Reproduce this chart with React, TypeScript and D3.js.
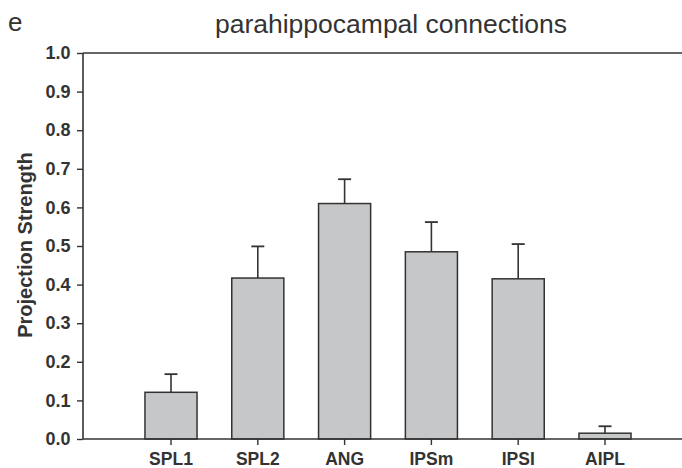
import React, { useEffect, useRef } from 'react'
import * as d3 from 'd3'

const regions = ['SPL1', 'SPL2', 'ANG', 'IPSm', 'IPSI', 'AIPL']
const strength = [0.121, 0.417, 0.61, 0.485, 0.415, 0.015]
const errorTop = [0.168, 0.499, 0.673, 0.562, 0.505, 0.033]
const yTicks = [0, 0.1, 0.2, 0.3, 0.4, 0.5, 0.6, 0.7, 0.8, 0.9, 1.0]

export default function App() {
    const node = useRef<SVGSVGElement>(null)

    useEffect(() => {
        document.body.style.margin = '0'
        const svg = d3.select(node.current)
        svg.selectAll('*').remove()

        const width = 682, height = 468
        const left = 83, right = 682, top = 53, bottom = 439
        const ink = '#333'
        const font = 'Liberation Sans, Arial, sans-serif'

        const y = d3.scaleLinear().domain([0, 1]).range([bottom, top])
        const x = d3.scaleBand().domain(regions)
            .range([127.6, 648.4]).paddingInner(0.4).paddingOuter(0.2)

        svg.attr('width', width).attr('height', height).style('font-family', font)

        // titles
        svg.append('text').attr('x', 8).attr('y', 31)
            .attr('font-size', 26).attr('fill', ink).text('e')
        svg.append('text').attr('x', 391).attr('y', 33)
            .attr('text-anchor', 'middle').attr('font-size', 26.5).attr('fill', ink)
            .text('parahippocampal connections')

        // bars + error bars
        const g = svg.append('g')
        g.selectAll('line.err').data(regions).enter().append('line')
            .attr('x1', d => x(d)! + x.bandwidth() / 2)
            .attr('x2', d => x(d)! + x.bandwidth() / 2)
            .attr('y1', (d, i) => y(strength[i]))
            .attr('y2', (d, i) => y(errorTop[i]))
            .attr('stroke', ink).attr('stroke-width', 1.6)
        g.selectAll('line.cap').data(regions).enter().append('line')
            .attr('x1', d => x(d)! + x.bandwidth() / 2 - 6.5)
            .attr('x2', d => x(d)! + x.bandwidth() / 2 + 6.5)
            .attr('y1', (d, i) => y(errorTop[i]))
            .attr('y2', (d, i) => y(errorTop[i]))
            .attr('stroke', ink).attr('stroke-width', 1.8)
        g.selectAll('rect').data(regions).enter().append('rect')
            .attr('x', d => x(d)!)
            .attr('width', x.bandwidth())
            .attr('y', (d, i) => y(strength[i]))
            .attr('height', (d, i) => bottom - y(strength[i]))
            .attr('fill', '#c5c7c9').attr('stroke', ink).attr('stroke-width', 1.5)

        // frame
        svg.append('line').attr('x1', left).attr('x2', right).attr('y1', top).attr('y2', top)
            .attr('stroke', ink).attr('stroke-width', 1.6)
        svg.append('line').attr('x1', left).attr('x2', right).attr('y1', bottom).attr('y2', bottom)
            .attr('stroke', ink).attr('stroke-width', 1.6)

        const yAxis = d3.axisLeft(y).tickValues(yTicks).tickFormat(d3.format('.1f'))
            .tickSize(6).tickPadding(6.5)
        const ya = svg.append('g').attr('transform', `translate(${left},0)`).call(yAxis)
        ya.select('.domain').attr('stroke', ink).attr('stroke-width', 1.6).attr('d', `M0,${top}V${bottom}`)
        ya.selectAll('.tick line').attr('stroke', ink).attr('stroke-width', 1.4)
        ya.selectAll('.tick text').attr('font-size', 18).attr('font-weight', 'bold')
            .attr('fill', ink).attr('font-family', font)

        const xAxis = d3.axisBottom(x).tickSize(6).tickPadding(8)
        const xa = svg.append('g').attr('transform', `translate(0,${bottom})`).call(xAxis)
        xa.select('.domain').remove()
        xa.selectAll('.tick line').attr('stroke', ink).attr('stroke-width', 1.4)
        xa.selectAll('.tick text').attr('font-size', 17.5).attr('font-weight', 'bold')
            .attr('fill', ink).attr('font-family', font)

        svg.append('text')
            .attr('transform', 'translate(32,245) rotate(-90)')
            .attr('text-anchor', 'middle').attr('font-size', 20).attr('font-weight', 'bold')
            .attr('fill', ink).text('Projection Strength')
    }, [])

    return <svg ref={node} style={{ display: 'block' }} />
}
